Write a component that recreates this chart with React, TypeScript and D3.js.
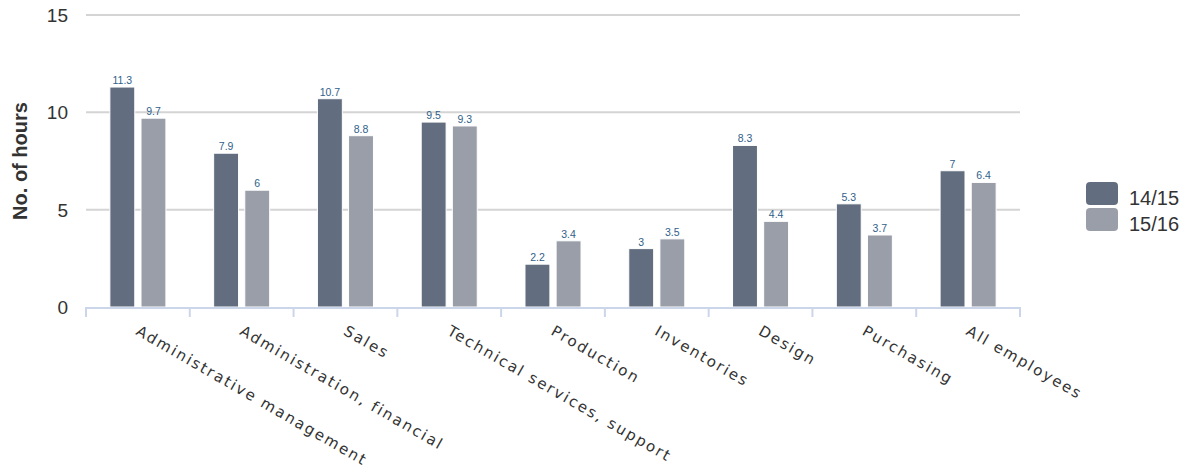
import React from "react";
import * as d3 from "d3";

const categories = [
  "Administrative management",
  "Administration, financial",
  "Sales",
  "Technical services, support",
  "Production",
  "Inventories",
  "Design",
  "Purchasing",
  "All employees",
];
const seriesNames = ["14/15", "15/16"];
const values1415 = [11.3, 7.9, 10.7, 9.5, 2.2, 3, 8.3, 5.3, 7];
const values1516 = [9.7, 6, 8.8, 9.3, 3.4, 3.5, 4.4, 3.7, 6.4];
const yTicks = [0, 5, 10, 15];
const colors = ["#626e80", "#9a9ea9"];

const W = 1190;
const H = 473;
const left = 86;
const right = 1020;
const top = 15;
const bottom = 307;

export default function App() {
  const x0 = d3.scaleBand<string>().domain(categories).range([left, right]).padding(0);
  const bw = x0.bandwidth();
  const groupPad = bw * 0.2;
  const x1 = d3
    .scaleBand<string>()
    .domain(seriesNames)
    .range([groupPad, bw - groupPad])
    .paddingInner(0.2)
    .paddingOuter(0.1);
  const y = d3.scaleLinear().domain([0, 15]).range([bottom, top]);
  const series = [values1415, values1516];
  const fmt = d3.format("");

  return (
    <svg
      width={W}
      height={H}
      style={{ position: "absolute", left: 0, top: 0, background: "#fff" }}
    >
      {yTicks.map((t) =>
        t === 0 ? null : (
          <line
            key={"g" + t}
            x1={left}
            x2={right}
            y1={y(t)}
            y2={y(t)}
            stroke="#d4d4d4"
            strokeWidth={2}
          />
        )
      )}
      {yTicks.map((t) => (
        <text
          key={"yl" + t}
          x={68}
          y={y(t) + 7}
          textAnchor="end"
          fontFamily="Liberation Sans, Arial, sans-serif"
          fontSize={19}
          fill="#333"
        >
          {t}
        </text>
      ))}
      <text
        transform={`translate(27, ${(top + bottom) / 2}) rotate(-90)`}
        textAnchor="middle"
        fontFamily="Liberation Sans, Arial, sans-serif"
        fontWeight="bold"
        fontSize={20}
        fill="#333"
      >
        No. of hours
      </text>
      {categories.map((c, i) => (
        <g key={c} transform={`translate(${x0(c)},0)`}>
          {seriesNames.map((s, k) => {
            const v = series[k][i];
            const bx = x1(s)!;
            return (
              <g key={s}>
                <rect
                  x={bx}
                  y={y(v)}
                  width={x1.bandwidth()}
                  height={y(0) - y(v)}
                  fill={colors[k]}
                  stroke="#fff"
                  strokeWidth={1}
                />
                <text
                  x={bx + x1.bandwidth() / 2}
                  y={y(v) - 3}
                  textAnchor="middle"
                  fontFamily="Liberation Sans, Arial, sans-serif"
                  fontSize={10.5}
                  fill="#30618a"
                >
                  {fmt(v)}
                </text>
              </g>
            );
          })}
        </g>
      ))}
      <line x1={left} x2={right} y1={bottom + 1} y2={bottom + 1} stroke="#ccd6eb" strokeWidth={2} />
      {d3.range(categories.length + 1).map((i) => {
        const xx = i < categories.length ? x0(categories[i])! : right;
        return (
          <line
            key={"t" + i}
            x1={xx}
            x2={xx}
            y1={bottom}
            y2={bottom + 10}
            stroke="#ccd6eb"
            strokeWidth={2}
          />
        );
      })}
      {categories.map((c) => {
        const cx = x0(c)! + bw / 2;
        return (
          <text
            key={"xl" + c}
            transform={`translate(${cx - 3}, ${bottom + 27}) rotate(30)`}
            textAnchor="start"
            fontFamily="DejaVu Sans, sans-serif"
            fontSize={15}
            letterSpacing={2}
            fill="#333"
          >
            {c}
          </text>
        );
      })}
      {seriesNames.map((s, k) => (
        <g key={"lg" + s} transform={`translate(1086, ${182 + k * 26})`}>
          <rect width={32} height={23} rx={4} fill={colors[k]} />
          <text
            x={43}
            y={22.5}
            fontFamily="Liberation Sans, Arial, sans-serif"
            fontSize={20}
            fill="#333"
          >
            {s}
          </text>
        </g>
      ))}
    </svg>
  );
}
